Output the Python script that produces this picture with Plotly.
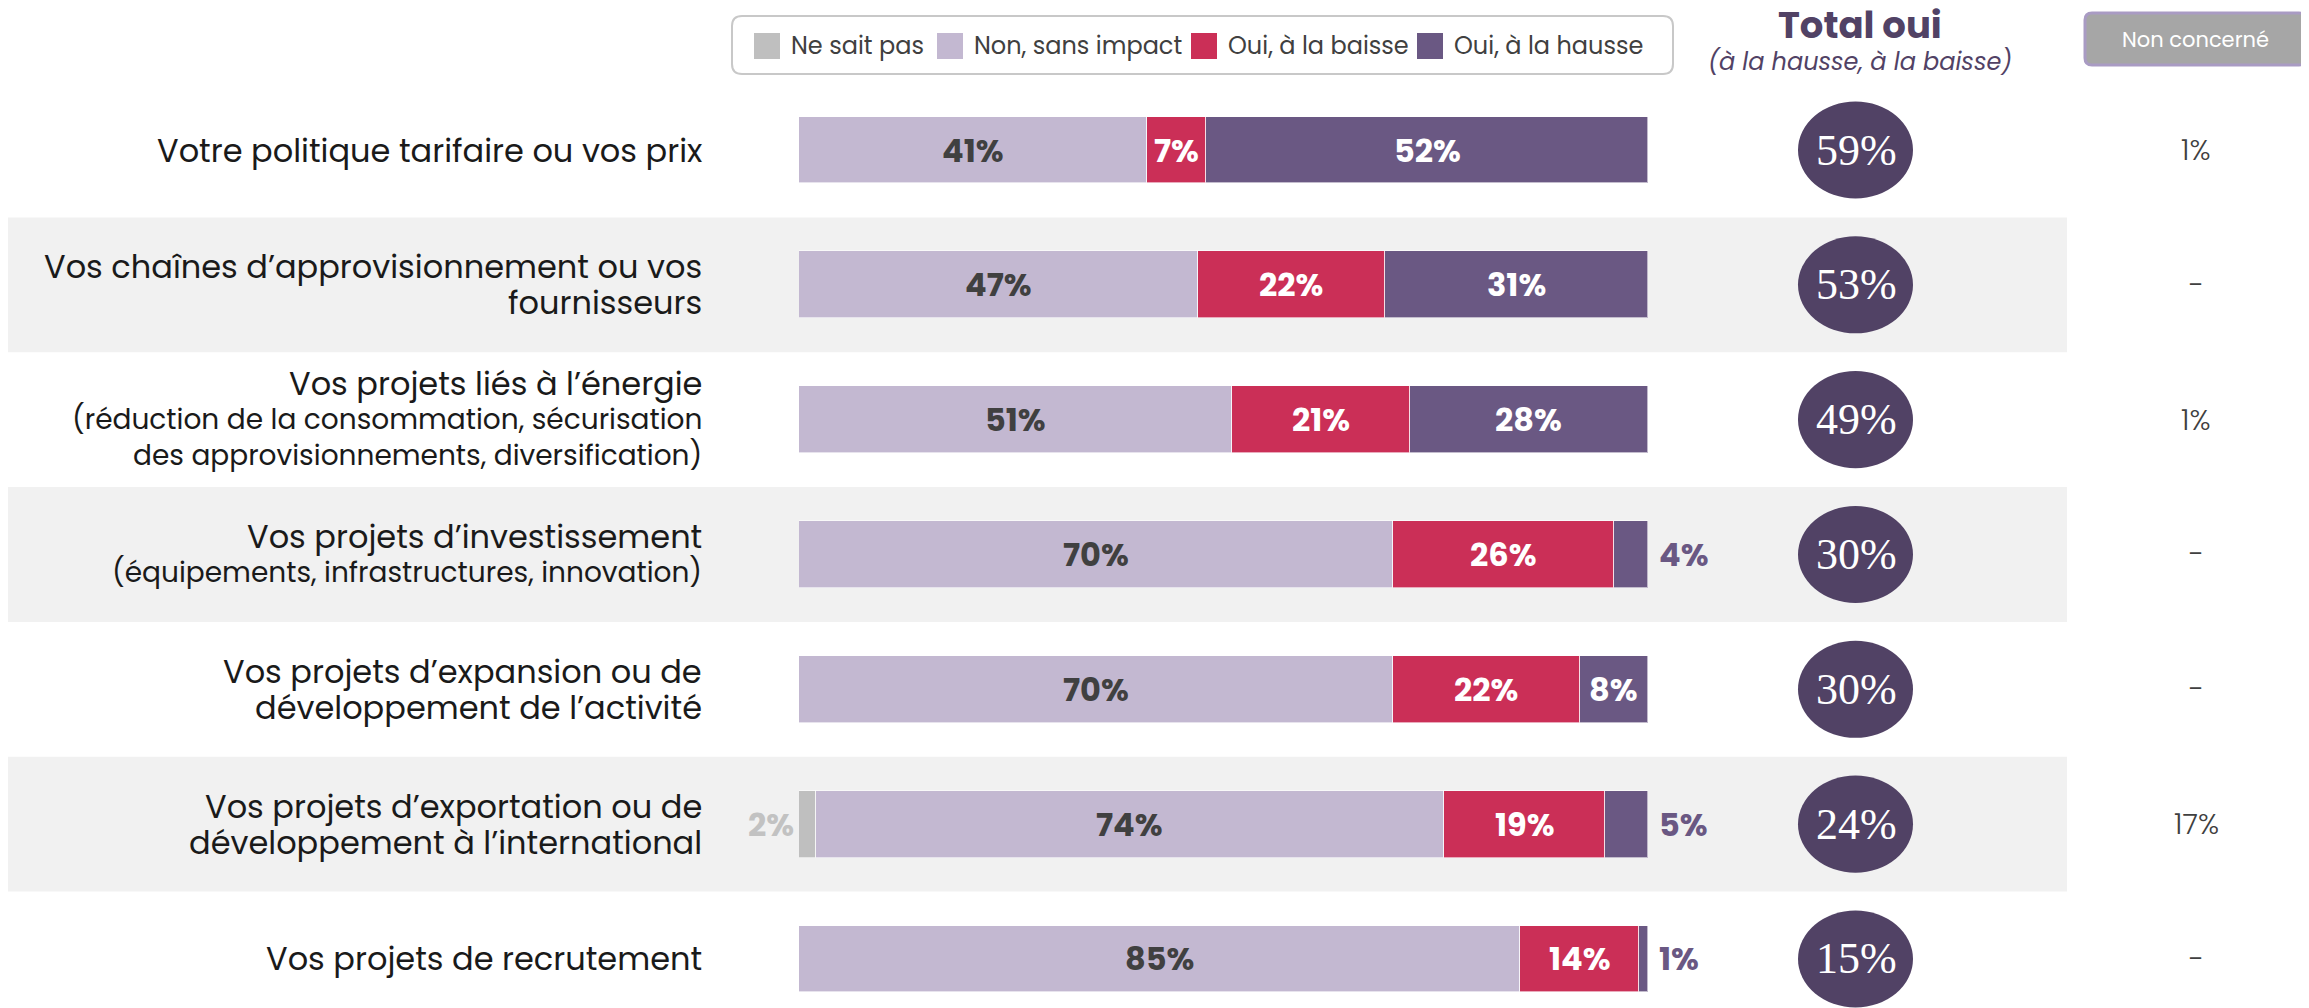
import plotly.graph_objects as go

# ---------------- data ----------------
categories = [
    ["Votre politique tarifaire ou vos prix"],
    ["Vos chaînes d’approvisionnement ou vos", "fournisseurs"],
    ["Vos projets liés à l’énergie", "(réduction de la consommation, sécurisation",
     "des approvisionnements, diversification)"],
    ["Vos projets d’investissement", "(équipements, infrastructures, innovation)"],
    ["Vos projets d’expansion ou de", "développement de l’activité"],
    ["Vos projets d’exportation ou de", "développement à l’international"],
    ["Vos projets de recrutement"],
]
sub_line_from = [None, None, 1, 1, None, None, None]   # lines in smaller type

series_names = ["Ne sait pas", "Non, sans impact", "Oui, à la baisse", "Oui, à la hausse"]
ne_sait_pas = [0, 0, 0, 0, 0, 2, 0]
non_sans_impact = [41, 47, 51, 70, 70, 74, 85]
oui_baisse = [7, 22, 21, 26, 22, 19, 14]
oui_hausse = [52, 31, 28, 4, 8, 5, 1]
total_oui = [59, 53, 49, 30, 30, 24, 15]
non_concerne = ["1%", "-", "1%", "-", "-", "17%", "-"]

# ---------------- style ----------------
W, H = 2309, 1008
OFF = 8  # page body margin
colors = ["#bfbfbf", "#c3b8d1", "#cb2f57", "#6a5883"]
inside_text_colors = ["#404040", "#404040", "#ffffff", "#ffffff"]
circle_color = "#514265"
band_color = "#f1f1f1"
TXT = "#1a1a1a"
SANS = "Poppins, Open Sans, sans-serif"
SERIF = "Liberation Serif, serif"
BAR_FONT = 32


def px(x):
    return (x - OFF) / W


def py(y):
    return 1 - (y - OFF) / H


def rounded_rect(x0, y0, x1, y1, r):
    return (f"M {px(x0 + r)},{py(y0)} L {px(x1 - r)},{py(y0)} "
            f"Q {px(x1)},{py(y0)} {px(x1)},{py(y0 + r)} L {px(x1)},{py(y1 - r)} "
            f"Q {px(x1)},{py(y1)} {px(x1 - r)},{py(y1)} L {px(x0 + r)},{py(y1)} "
            f"Q {px(x0)},{py(y1)} {px(x0)},{py(y1 - r)} L {px(x0)},{py(y0 + r)} "
            f"Q {px(x0)},{py(y0)} {px(x0 + r)},{py(y0)} Z")


rows = list(range(len(categories)))
series = [ne_sait_pas, non_sans_impact, oui_baisse, oui_hausse]

# row centres on screen: 150 + 134.83*i  -> figure coords subtract OFF
ROW0, STEP = 150 - OFF, 134.83
y_top = -ROW0 / STEP
y_bot = (H - ROW0) / STEP

fig = go.Figure()
for name, vals, col in zip(series_names, series, colors):
    fig.add_trace(go.Bar(
        y=rows, x=vals, name=name, orientation="h",
        marker=dict(color=col, line=dict(color="rgba(255,255,255,0.6)", width=1)),
        width=0.495, showlegend=False,
        hovertemplate=name + ": %{x}%<extra></extra>",
    ))

shapes = []
annotations = []

# alternating bands
for i in rows:
    if i % 2 == 1:
        shapes.append(dict(type="rect", xref="paper", yref="y",
                           x0=px(7), x1=px(2067), y0=i - 0.5, y1=i + 0.5,
                           fillcolor=band_color, line=dict(width=0), layer="below"))

# segment value labels
for i in rows:
    left = 0
    for s, vals in enumerate(series):
        v = vals[i]
        if v > 0:
            label = f"{v}%"
            if s == 0:
                annotations.append(dict(x=0, y=i, xref="x", yref="y", text=label,
                                        showarrow=False, xanchor="right", xshift=-3,
                                        font=dict(family=SANS, size=BAR_FONT, color="#c2c2c2",
                                                  weight="bold")))
            elif s == 3 and v < 6:
                annotations.append(dict(x=left + v, y=i, xref="x", yref="y", text=label,
                                        showarrow=False, xanchor="left", xshift=9,
                                        font=dict(family=SANS, size=BAR_FONT, color=colors[3],
                                                  weight="bold")))
            else:
                annotations.append(dict(x=left + v / 2, y=i, xref="x", yref="y", text=label,
                                        showarrow=False, xanchor="center",
                                        font=dict(family=SANS, size=BAR_FONT,
                                                  color=inside_text_colors[s], weight="bold")))
        left += v

# category labels (one annotation per line)
LINE = 36
for i, lines in enumerate(categories):
    n = len(lines)
    for k, line in enumerate(lines):
        sub = sub_line_from[i] is not None and k >= sub_line_from[i]
        annotations.append(dict(x=px(704), y=i, xref="paper", yref="y", text=line,
                                showarrow=False, xanchor="right", yanchor="middle",
                                yshift=-(k - (n - 1) / 2) * LINE,
                                font=dict(family=SANS, size=28 if sub else 32, color=TXT)))

# total oui circles
for i, v in enumerate(total_oui):
    shapes.append(dict(type="circle", xref="paper", yref="y",
                       x0=px(1798), x1=px(1913), y0=i - 0.36, y1=i + 0.36,
                       fillcolor=circle_color, line=dict(width=0), layer="above"))
    annotations.append(dict(x=px(1856), y=i, xref="paper", yref="y", text=f"{v}%",
                            showarrow=False, xanchor="center", yanchor="middle",
                            font=dict(family=SERIF, size=44, color="white")))

# non concerné column
for i, t in enumerate(non_concerne):
    annotations.append(dict(x=px(2196), y=i, xref="paper", yref="y", text=t,
                            showarrow=False, xanchor="center", yanchor="middle",
                            font=dict(family=SANS, size=29, color="#404040", weight=300)))

# header: Total oui
annotations.append(dict(x=px(1860), y=py(25), xref="paper", yref="paper", text="<b>Total oui</b>",
                        showarrow=False, xanchor="center", yanchor="middle",
                        font=dict(family=SANS, size=37, color=circle_color)))
annotations.append(dict(x=px(1860), y=py(61), xref="paper", yref="paper",
                        text="<i>(à la hausse, à la baisse)</i>",
                        showarrow=False, xanchor="center", yanchor="middle",
                        font=dict(family=SANS, size=24, color=circle_color)))

# header: Non concerné box
shapes.append(dict(type="path", xref="paper", yref="paper",
                   path=rounded_rect(2085, 13, 2306, 65, 7),
                   fillcolor="#a6a6a6", line=dict(color="#a99bc3", width=3)))
annotations.append(dict(x=px(2195), y=py(39), xref="paper", yref="paper", text="Non concerné",
                        showarrow=False, xanchor="center", yanchor="middle",
                        font=dict(family=SANS, size=21, color="white")))

# custom legend
shapes.append(dict(type="path", xref="paper", yref="paper",
                   path=rounded_rect(732, 16, 1673, 74, 10),
                   fillcolor="white", line=dict(color="#c8c8c8", width=2)))
sq_left = [754, 937, 1191, 1417]
for name, col, x0 in zip(series_names, colors, sq_left):
    shapes.append(dict(type="rect", xref="paper", yref="paper",
                       x0=px(x0), x1=px(x0 + 26), y0=py(33), y1=py(59),
                       fillcolor=col, line=dict(width=0)))
    annotations.append(dict(x=px(x0 + 35), y=py(46), xref="paper", yref="paper", text=name,
                            showarrow=False, xanchor="left", yanchor="middle",
                            font=dict(family=SANS, size=24, color="#404040")))

fig.update_layout(
    width=W, height=H, autosize=False,
    margin=dict(l=0, r=0, t=0, b=0),
    barmode="stack", bargap=0,
    paper_bgcolor="white", plot_bgcolor="rgba(0,0,0,0)",
    xaxis=dict(domain=[px(799), px(1647.7)], range=[0, 100], visible=False, fixedrange=True),
    yaxis=dict(domain=[0, 1], range=[y_bot, y_top], visible=False, fixedrange=True),
    shapes=shapes, annotations=annotations,
    showlegend=False,
)

fig.write_html("out.html")
